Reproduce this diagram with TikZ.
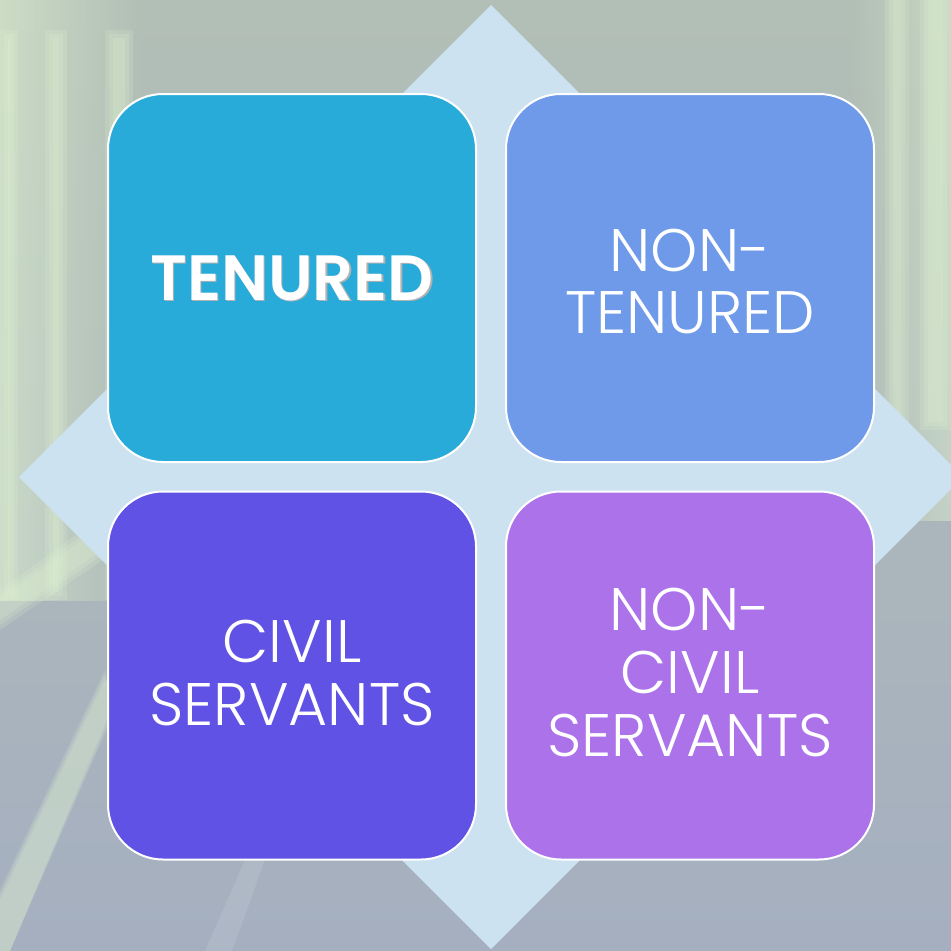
\documentclass[tikz,border=0pt]{standalone}
\usepackage{fontspec}
\usetikzlibrary{positioning}
\newfontfamily\tilefont{Poppins}[UprightFont=* Light]
\newfontfamily\headfont{Poppins}[UprightFont=* SemiBold]
\definecolor{bgtop}{HTML}{B2BFB6}
\definecolor{bgbot}{HTML}{A5AFC0}
\definecolor{glow}{HTML}{E2F5D3}
\definecolor{diam}{HTML}{CDE2F0}
\definecolor{tenured}{HTML}{29ABDA}
\definecolor{nontenured}{HTML}{6F9AE9}
\definecolor{civil}{HTML}{6152E6}
\definecolor{noncivil}{HTML}{AB72EA}
\tikzset{
  tile/.style={draw=white,line width=2pt,rounded corners=55pt,
    minimum width=368pt,minimum height=368pt,inner sep=0pt,
    text=white,align=center},
  tiletext/.style={font=\tilefont\fontsize{60}{63}\selectfont},
  glowbar/.style={fill=glow,opacity=0.18}
}

\begin{document}
\begin{tikzpicture}[x=1pt,y=-1pt]
%------------------------------
% background
%______________________________
\useasboundingbox (0,0) rectangle (951,951);
\shade[top color=bgtop,bottom color=bgbot] (0,0) rectangle (951,951);
\shade[left color=glow,right color=bgtop,opacity=0.55] (0,0) rectangle (140,600);
\shade[left color=bgtop,right color=glow,opacity=0.45] (850,0) rectangle (951,520);
\foreach \x/\w in {0/18,45/22,105/28} {
    \foreach \d in {0,4,8} {
        \fill[glowbar] (\x+\d,30+\d) rectangle (\x+\w-\d,600-\d);
    }
}
\foreach \x/\w in {885/24,920/31} {
    \foreach \d in {0,4,8} {
        \fill[glowbar] (\x+\d,0) rectangle (\x+\w-\d,430-\d);
    }
}
\foreach \d in {0,5,10} {
    \fill[glowbar] (0,600-\d) -- (110,520-\d) -- (110,545+\d) -- (0,620+\d) -- cycle;
    \fill[glowbar] (0,900-\d) -- (105,680-\d) -- (115,700+\d) -- (10,951) -- (0,951) -- cycle;
}
\fill[white,opacity=0.1] (205,951) -- (245,860) -- (265,860) -- (232,951) -- cycle;
%
% diamond
\fill[diam] (491,5) -- (963,477) -- (491,949) -- (19,477) -- cycle;
%
%------------------------------
% tiles
%______________________________
\node[tile,fill=tenured] (ten) at (292,278) {};
\node[tile,fill=nontenured] (nten) at (690,278) {};
\node[tile,fill=civil] (civ) at (292,675.5) {};
\node[tile,fill=noncivil] (nciv) at (690,675.5) {};
%
\node[text=gray!60,font=\headfont\fontsize{64}{64}\selectfont] at ([shift={(1.2,1.2)}]ten.center) {TENURED};
\node[text=white,font=\headfont\fontsize{64}{64}\selectfont] (tenlabel) at (ten.center) {TENURED};
\node[tiletext,text=white,align=center] (ntenlabel) at ([yshift=-3pt]nten.center) {NON-\\[-1pt]TENURED};
\node[tiletext,text=white,align=center] (civlabel) at ([yshift=3pt]civ.center) {CIVIL\\SERVANTS};
\node[tiletext,text=white,align=center] (ncivlabel) at ([yshift=3pt]nciv.center) {NON-\\CIVIL\\SERVANTS};
\end{tikzpicture}
\end{document}
